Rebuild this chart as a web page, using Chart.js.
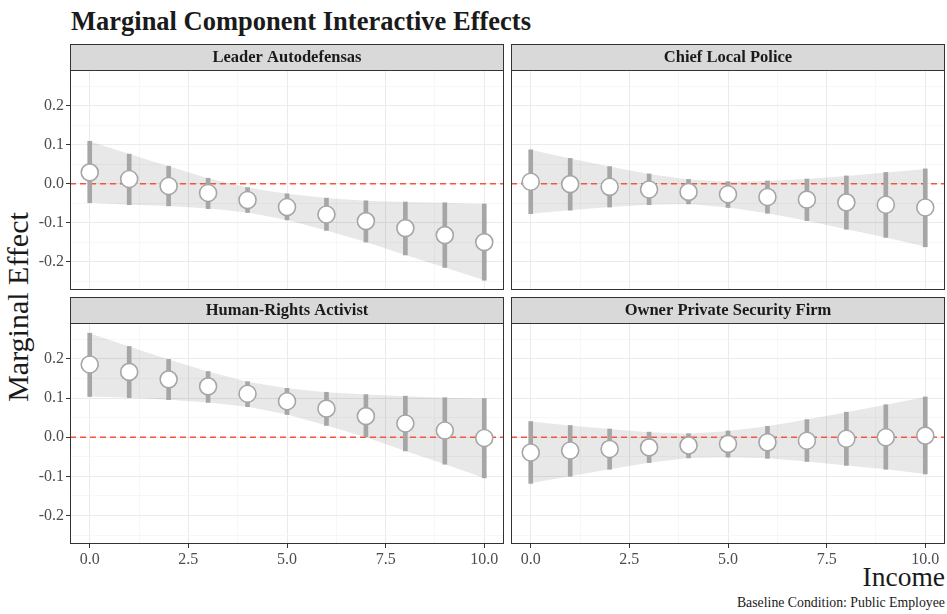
<!DOCTYPE html>
<html>
<head>
<meta charset="utf-8">
<script src="https://cdn.jsdelivr.net/npm/chart.js@4.4.1/dist/chart.umd.min.js"></script>
<style>
  html, body { margin: 0; padding: 0; background: #fff; }
  body { position: relative; width: 947px; height: 614px; overflow: hidden; font-family: 'Liberation Serif', serif; color: #1a1a1a; }
  .panel { position: absolute; }
  .txt { position: absolute; line-height: 1; white-space: nowrap; }
  #title { left: 71px; top: 7.8px; font-size: 26.5px; font-weight: bold; }
  #ytitle { left: 18.3px; top: 307px; font-size: 30px; transform: translate(-50%, -50%) rotate(-90deg); }
  #xtitle { right: 2px; top: 563px; font-size: 27.5px; }
  #caption { right: 2px; top: 596.4px; font-size: 13.8px; }
</style>
</head>
<body>
<div id="title" class="txt">Marginal Component Interactive Effects</div>
<div id="ytitle" class="txt">Marginal Effect</div>
<div id="xtitle" class="txt">Income</div>
<div id="caption" class="txt">Baseline Condition: Public Employee</div>

<div class="panel" style="left:0;top:40px;width:505px;height:252px"><canvas id="p1"></canvas></div>
<div class="panel" style="left:505px;top:40px;width:441px;height:252px"><canvas id="p2"></canvas></div>
<div class="panel" style="left:0;top:293px;width:505px;height:273px"><canvas id="p3"></canvas></div>
<div class="panel" style="left:505px;top:293px;width:441px;height:273px"><canvas id="p4"></canvas></div>

<script>
// income levels on the x axis
const income = [0, 1, 2, 3, 4, 5, 6, 7, 8, 9, 10];

// Leader Autodefensas
const leaderEst = [0.029, 0.012, -0.006, -0.024, -0.042, -0.060, -0.079, -0.096, -0.114, -0.132, -0.150];
const leaderLo  = [-0.049, -0.054, -0.057, -0.064, -0.074, -0.093, -0.120, -0.150, -0.183, -0.215, -0.248];
const leaderHi  = [0.109, 0.076, 0.045, 0.014, -0.010, -0.026, -0.037, -0.044, -0.047, -0.049, -0.052];

// Chief Local Police
const policeEst = [0.005, -0.001, -0.008, -0.015, -0.021, -0.027, -0.034, -0.041, -0.048, -0.054, -0.061];
const policeLo  = [-0.077, -0.068, -0.060, -0.054, -0.052, -0.061, -0.076, -0.095, -0.117, -0.138, -0.162];
const policeHi  = [0.087, 0.065, 0.044, 0.025, 0.011, 0.005, 0.007, 0.012, 0.020, 0.029, 0.038];

// Human-Rights Activist
const activistEst = [0.186, 0.167, 0.148, 0.130, 0.111, 0.092, 0.073, 0.054, 0.035, 0.017, -0.002];
const activistLo  = [0.104, 0.101, 0.096, 0.089, 0.078, 0.058, 0.030, 0.000, -0.035, -0.069, -0.104];
const activistHi  = [0.266, 0.232, 0.199, 0.168, 0.142, 0.125, 0.115, 0.109, 0.105, 0.101, 0.099];

// Owner Private Security Firm
const ownerEst = [-0.039, -0.034, -0.030, -0.026, -0.021, -0.017, -0.013, -0.009, -0.004, 0.000, 0.004];
const ownerLo  = [-0.118, -0.100, -0.082, -0.065, -0.053, -0.051, -0.054, -0.062, -0.072, -0.082, -0.094];
const ownerHi  = [0.040, 0.030, 0.021, 0.013, 0.009, 0.016, 0.028, 0.045, 0.064, 0.083, 0.103];

// axis ticks (minor ones only get a grid line)
const xMajor = [0, 2.5, 5, 7.5, 10];
const xMinor = [1.25, 3.75, 6.25, 8.75];
const yMajor = [-0.2, -0.1, 0, 0.1, 0.2];
const yMinor = [-0.25, -0.15, -0.05, 0.05, 0.15, 0.25];
const xRange = [-0.5, 10.5];
const yRange = [-0.273, 0.292];
const refLevel = 0;

const SERIF = "'Liberation Serif', serif";

// panel border and grey strip with the facet name
const facetPlugin = {
  id: 'facet',
  afterDraw(chart, args, opts) {
    const { ctx, chartArea: a } = chart;
    const l = Math.round(a.left) + 0.5, r = Math.round(a.right) - 0.5;
    const t = Math.round(a.top) + 0.5, b = Math.round(a.bottom) - 0.5;
    ctx.save();
    ctx.strokeStyle = '#333333';
    ctx.lineWidth = 1;
    ctx.strokeRect(l, t, r - l, b - t);
    ctx.fillStyle = '#d9d9d9';
    ctx.fillRect(l, t - 26, r - l, 26);
    ctx.strokeRect(l, t - 26, r - l, 26);
    ctx.fillStyle = '#1a1a1a';
    ctx.font = 'bold 16.5px ' + SERIF;
    ctx.textAlign = 'center';
    ctx.textBaseline = 'middle';
    ctx.fillText(opts.label, (l + r) / 2, t - 12.5);
    ctx.restore();
  }
};

function tickList(major, minor) {
  return major.map(v => ({ value: v, minor: false }))
    .concat(minor.map(v => ({ value: v, minor: true })))
    .sort((p, q) => p.value - q.value);
}

function gridOpts(showTicks) {
  return {
    offset: false,
    color: c => (c.tick && c.tick.minor ? '#f4f4f4' : '#ebebeb'),
    lineWidth: c => (c.tick && c.tick.minor ? 0.7 : 1),
    tickColor: c => (showTicks && c.tick && !c.tick.minor ? '#333333' : 'rgba(0,0,0,0)'),
    tickLength: 4,
    tickWidth: 1
  };
}

function makePanel(id, label, est, lo, hi, showY, showX) {
  new Chart(document.getElementById(id), {
    type: 'scatter',
    data: {
      datasets: [
        {
          // confidence ribbon, upper edge filled down to the lower edge
          type: 'line',
          data: income.map((x, i) => ({ x, y: hi[i] })),
          borderWidth: 0,
          pointRadius: 0,
          fill: '+1',
          backgroundColor: 'rgba(0,0,0,0.09)',
          order: 4
        },
        {
          type: 'line',
          data: income.map((x, i) => ({ x, y: lo[i] })),
          borderWidth: 0,
          pointRadius: 0,
          fill: false,
          order: 3
        },
        {
          // dashed reference line at zero
          type: 'line',
          data: xRange.map(x => ({ x, y: refLevel })),
          borderColor: '#f4553f',
          borderWidth: 1.4,
          borderDash: [6, 4],
          pointRadius: 0,
          fill: false,
          order: 2
        },
        {
          type: 'bar',
          data: income.map((x, i) => ({ x, y: [lo[i], hi[i]] })),
          backgroundColor: '#a6a6a6',
          borderWidth: 0,
          barThickness: 4,
          grouped: false,
          order: 1
        },
        {
          type: 'scatter',
          data: income.map((x, i) => ({ x, y: est[i] })),
          pointRadius: 8.5,
          pointBorderWidth: 1.6,
          pointBackgroundColor: '#ffffff',
          pointBorderColor: '#a6a6a6',
          order: 0
        }
      ]
    },
    options: {
      responsive: true,
      maintainAspectRatio: false,
      animation: false,
      events: [],
      layout: { autoPadding: false, padding: { top: 30, right: 1, left: 0, bottom: 0 } },
      plugins: {
        legend: { display: false },
        tooltip: { enabled: false },
        facet: { label }
      },
      scales: {
        x: {
          type: 'linear',
          offset: false,
          min: xRange[0],
          max: xRange[1],
          afterBuildTicks: s => { s.ticks = tickList(xMajor, xMinor); },
          afterFit: s => { s.height = showX ? 22 : 2; s.paddingLeft = 0; s.paddingRight = 0; },
          grid: gridOpts(showX),
          border: { display: false },
          ticks: {
            display: showX,
            autoSkip: false,
            maxRotation: 0,
            padding: 2,
            color: '#4d4d4d',
            font: { family: SERIF, size: 16 },
            callback: (v, i, ticks) => (ticks[i].minor ? '' : v.toFixed(1))
          }
        },
        y: {
          type: 'linear',
          min: yRange[0],
          max: yRange[1],
          afterBuildTicks: s => { s.ticks = tickList(yMajor, yMinor); },
          afterFit: s => { s.width = showY ? 70 : 6; s.paddingTop = 0; s.paddingBottom = 0; },
          grid: gridOpts(showY),
          border: { display: false },
          ticks: {
            display: showY,
            autoSkip: false,
            padding: 2,
            color: '#4d4d4d',
            font: { family: SERIF, size: 16 },
            callback: (v, i, ticks) => (ticks[i].minor ? '' : v.toFixed(1))
          }
        }
      }
    },
    plugins: [facetPlugin]
  });
}

makePanel('p1', 'Leader Autodefensas', leaderEst, leaderLo, leaderHi, true, false);
makePanel('p2', 'Chief Local Police', policeEst, policeLo, policeHi, false, false);
makePanel('p3', 'Human-Rights Activist', activistEst, activistLo, activistHi, true, true);
makePanel('p4', 'Owner Private Security Firm', ownerEst, ownerLo, ownerHi, false, true);
</script>
</body>
</html>
